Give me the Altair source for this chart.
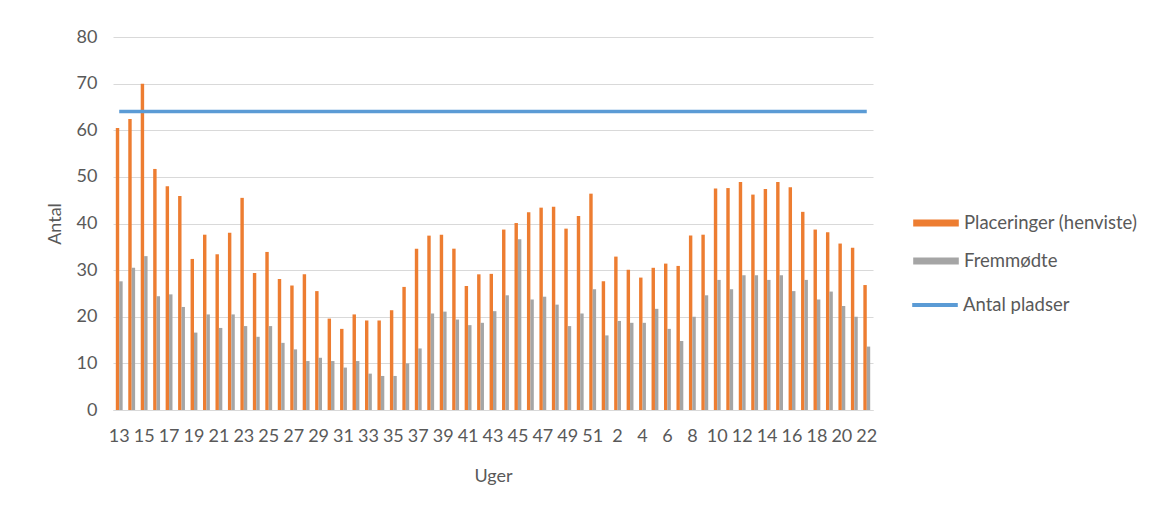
import json
import altair as alt
import pandas as pd

uger = [str(w) for w in range(13, 53)] + [str(w) for w in range(2, 23)]
placeringer = [60.5, 62.4, 70.0, 51.7, 48.0, 45.9, 32.4, 37.6, 33.4, 38.0,
               45.5, 29.4, 33.9, 28.1, 26.7, 29.1, 25.5, 19.6, 17.4, 20.5,
               19.2, 19.2, 21.4, 26.4, 34.6, 37.4, 37.6, 34.6, 26.6, 29.1,
               29.2, 38.7, 40.1, 42.4, 43.4, 43.6, 38.9, 41.6, 46.4, 27.6,
               32.9, 30.1, 28.4, 30.5, 31.4, 30.9, 37.4, 37.6, 47.5, 47.6,
               48.9, 46.2, 47.4, 48.9, 47.8, 42.5, 38.7, 38.1, 35.7, 34.8,
               26.8]
fremmodte = [27.6, 30.5, 33.0, 24.4, 24.8, 22.1, 16.6, 20.5, 17.6, 20.5,
             18.0, 15.7, 18.0, 14.4, 13.0, 10.5, 11.2, 10.5, 9.1, 10.5,
             7.8, 7.3, 7.3, 10.0, 13.2, 20.7, 21.1, 19.4, 18.2, 18.7,
             21.2, 24.6, 36.6, 23.7, 24.3, 22.6, 18.0, 20.7, 25.9, 16.0,
             19.1, 18.7, 18.7, 21.7, 17.4, 14.8, 20.0, 24.6, 27.9, 25.9,
             28.9, 28.9, 27.9, 28.9, 25.5, 27.9, 23.7, 25.4, 22.3, 20.0,
             13.6]
antal_pladser = 64
serier = ["Placeringer (henviste)", "Fremmødte"]
linje_navn = "Antal pladser"
y_ticks = [0, 10, 20, 30, 40, 50, 60, 70, 80]

ORANGE = "#ED7D31"
GRAY = "#A5A5A5"
BLUE = "#5B9BD5"
TXT = "#595959"
FONT = "Lato"

idx = list(range(len(uger)))
rows = []
for i in idx:
    rows.append({"i": i, "uge": uger[i], "serie": serier[0], "antal": placeringer[i]})
    rows.append({"i": i, "uge": uger[i], "serie": serier[1], "antal": fremmodte[i]})
bars_df = pd.DataFrame(rows)
line_df = pd.DataFrame({"i": idx, "serie": linje_navn, "antal": [antal_pladser] * len(idx)})

label_expr = json.dumps(uger) + "[datum.value]"

x_enc = alt.X(
    "i:O",
    scale=alt.Scale(paddingInner=0.45, paddingOuter=0.225),
    axis=alt.Axis(
        values=idx[::2], labelExpr=label_expr, labelAngle=0, ticks=False,
        domainColor="#D9D9D9", domainWidth=1, labelPadding=17, labelOverlap=False,
        title="Uger", titlePadding=22, grid=False,
    ),
)
y_enc = alt.Y(
    "antal:Q",
    scale=alt.Scale(domain=[0, 80], nice=False),
    axis=alt.Axis(
        values=y_ticks, ticks=False, domain=False, labelPadding=16,
        title="Antal", titlePadding=12, gridColor="#D9D9D9", gridWidth=1,
    ),
)

bars = alt.Chart(bars_df).mark_bar().encode(
    x=x_enc,
    xOffset=alt.XOffset("serie:N", sort=serier, scale=alt.Scale(domain=serier, paddingInner=0, paddingOuter=0)),
    y=y_enc,
    color=alt.Color(
        "serie:N",
        scale=alt.Scale(domain=serier, range=[ORANGE, GRAY]),
        legend=alt.Legend(
            title=None, orient="none", legendX=811, legendY=174,
            symbolType="M-1.9,-0.3H1.9V0.3H-1.9Z", symbolSize=576,
            symbolStrokeWidth=0, symbolOpacity=1,
            labelFont=FONT, labelFontSize=18.5, labelColor=TXT, labelLimit=400,
            rowPadding=16, labelOffset=16,
        ),
    ),
)

line = alt.Chart(line_df).mark_line(strokeWidth=3.5).encode(
    x=alt.X("i:O"),
    y=alt.Y("antal:Q"),
    stroke=alt.Stroke(
        "serie:N",
        scale=alt.Scale(domain=[linje_navn], range=[BLUE]),
        legend=alt.Legend(
            title=None, orient="none", legendX=808, legendY=254,
            symbolType="M-1.9,0H1.9", symbolSize=576, symbolStrokeWidth=4,
            labelFont=FONT, labelFontSize=18.5, labelColor=TXT, labelLimit=400,
            labelOffset=14,
        ),
    ),
)

chart = alt.layer(bars, line).properties(
    width=760,
    height=373,
    background="white",
    autosize=alt.AutoSizeParams(type="none"),
    padding={"left": 105, "top": 29, "right": 279, "bottom": 80},
).configure_view(stroke=None).configure_axis(
    labelFont=FONT, labelFontSize=18, labelColor=TXT,
    titleFont=FONT, titleFontSize=18, titleColor=TXT, titleFontWeight="normal",
)

chart.save("out.html", embed_options={"renderer": "svg", "actions": False})
